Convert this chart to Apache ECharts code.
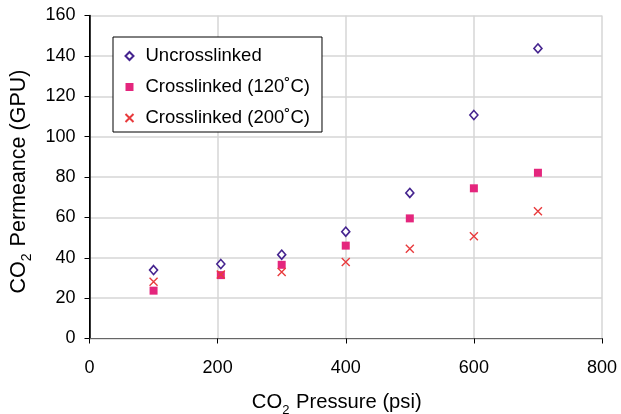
<!DOCTYPE html>
<html>
<head>
<meta charset="utf-8">
<script src="https://cdn.jsdelivr.net/npm/echarts@6/dist/echarts.min.js"></script>
<style>html,body{margin:0;padding:0;background:#fff}#c{width:621px;height:414px}</style>
</head>
<body>
<div id="c"></div>
<script>
const seriesNames = ['Uncrosslinked', 'Crosslinked (120˚C)', 'Crosslinked (200˚C)'];
const pressure = [100, 205, 300, 400, 500, 600, 700];
const uncrosslinked = [33.9, 36.9, 41.5, 52.9, 72.1, 110.7, 143.7];
const crosslinked120 = [23.7, 31.4, 36.5, 46.0, 59.5, 74.4, 82.1];
const crosslinked200 = [28.1, 31.7, 33.0, 37.9, 44.5, 50.6, 63.0];
const xTicks = [0, 200, 400, 600, 800];
const yTicks = [0, 20, 40, 60, 80, 100, 120, 140, 160];

const pair = (xs, ys) => xs.map((x, i) => [x, ys[i]]);
const font = 'Liberation Sans, Arial, sans-serif';
const chart = echarts.init(document.getElementById('c'));
const crossPath = 'path://M0,0L10,10M10,0L0,10';
const makeRich = (fs) => ({
  n: { fontSize: fs, color: '#000', fontFamily: font, lineHeight: 22, verticalAlign: 'bottom' },
  s: { fontSize: Math.round(fs * 0.66), color: '#000', fontFamily: font, lineHeight: 22, verticalAlign: 'bottom', padding: [0, 1, -4, 0] }
});
chart.setOption({
  animation: false,
  textStyle: { fontFamily: font },
  grid: { left: 89.5, right: 19, top: 15.5, bottom: 75.5, outerBoundsMode: 'none', containLabel: false },
  legend: {
    orient: 'vertical', left: 113, top: 37,
    padding: [9, 12, 4, 10], itemGap: 11,
    itemWidth: 8, itemHeight: 8,
    borderColor: '#000', borderWidth: 1, backgroundColor: '#fff',
    textStyle: { fontSize: 18.5, color: '#000', fontFamily: font, lineHeight: 20, padding: [0, 0, 0, 7] },
    data: seriesNames
  },
  xAxis: [{
    type: 'value', min: xTicks[0], max: xTicks[xTicks.length - 1], interval: 200,
    axisLine: { show: true, lineStyle: { color: '#000', width: 1 } },
    axisTick: { show: true, inside: false, length: 5, lineStyle: { color: '#000' } },
    axisLabel: { fontSize: 18, color: '#000', margin: 21, fontFamily: font },
    splitLine: { show: true, lineStyle: { color: '#d6d6d6', width: 1.5 } },
    name: '{n|CO}{s|2}{n| Pressure (psi)}', nameLocation: 'middle', nameGap: 52,
    nameTextStyle: { rich: makeRich(20.2), padding: [0, 18, 0, 0] }
  }, {
    type: 'value', position: 'top', min: 0, max: 800, interval: 200,
    axisLine: { show: true, lineStyle: { color: '#666', width: 1 } },
    axisTick: { show: false }, axisLabel: { show: false }, splitLine: { show: false }
  }],
  yAxis: [{
    type: 'value', min: yTicks[0], max: yTicks[yTicks.length - 1], interval: 20,
    axisLine: { show: true, lineStyle: { color: '#000', width: 1 } },
    axisTick: { show: true, inside: false, length: 5, lineStyle: { color: '#000' } },
    axisLabel: { fontSize: 18, color: '#000', margin: 14, fontFamily: font },
    splitLine: { show: true, lineStyle: { color: '#d6d6d6', width: 1.5 } },
    name: '{n|CO}{s|2}{n| Permeance (GPU)}', nameLocation: 'middle', nameGap: 55, nameRotate: 90,
    nameTextStyle: { rich: makeRich(21.5), padding: [0, 9, 0, 0] }
  }, {
    type: 'value', position: 'right', min: 0, max: 160, interval: 20,
    axisLine: { show: true, lineStyle: { color: '#000', width: 1.5 } },
    axisTick: { show: false }, axisLabel: { show: false }, splitLine: { show: false }
  }],
  series: [{
    name: seriesNames[0], type: 'scatter', data: pair(pressure, uncrosslinked),
    symbol: 'diamond', symbolSize: [8, 9],
    itemStyle: { color: '#fff', borderColor: '#45248f', borderWidth: 1.6, opacity: 1 }, z: 3
  }, {
    name: seriesNames[1], type: 'scatter', data: pair(pressure, crosslinked120),
    symbol: 'rect', symbolSize: 8,
    itemStyle: { color: '#e4267d', opacity: 1 }, z: 2
  }, {
    name: seriesNames[2], type: 'scatter', data: pair(pressure, crosslinked200),
    symbol: crossPath, symbolSize: 8,
    itemStyle: { color: 'none', borderColor: '#e83a3c', borderWidth: 1.4, opacity: 1 }, z: 4
  }]
});
</script>
</body>
</html>
